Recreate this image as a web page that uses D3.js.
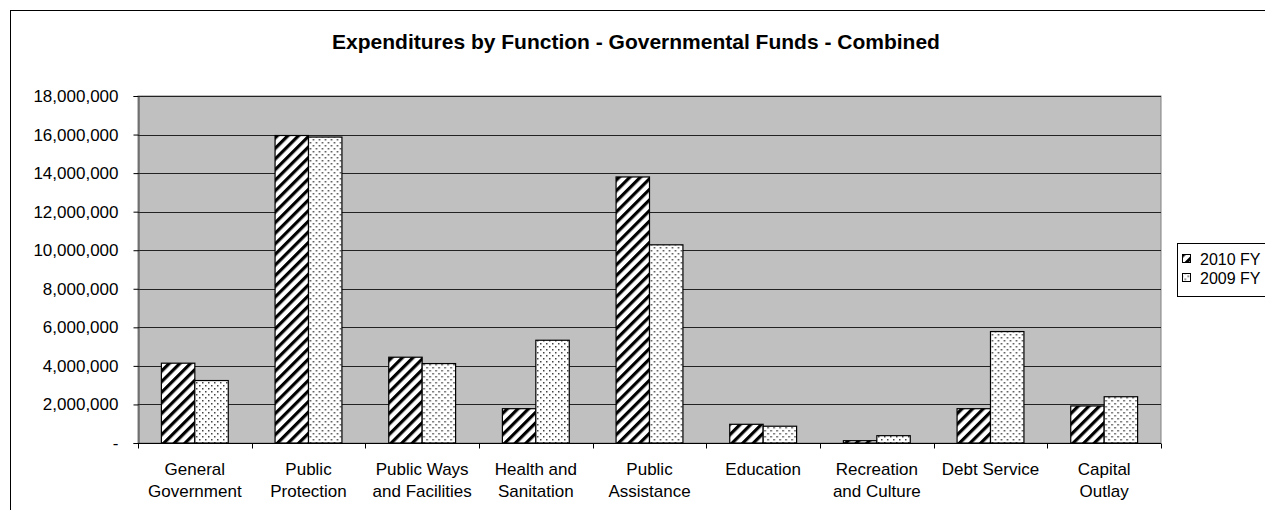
<!DOCTYPE html>
<html>
<head>
<meta charset="utf-8">
<script src="https://cdn.jsdelivr.net/npm/d3@7"></script>
<style>
  body { margin: 0; background: #fff; }
  svg { display: block; font-family: "Liberation Sans", Arial, sans-serif; }
</style>
</head>
<body>
<script>
const categories = [
  ["General", "Government"],
  ["Public", "Protection"],
  ["Public Ways", "and Facilities"],
  ["Health and", "Sanitation"],
  ["Public", "Assistance"],
  ["Education"],
  ["Recreation", "and Culture"],
  ["Debt Service"],
  ["Capital", "Outlay"]
];
const series = ["2010 FY", "2009 FY"];
const fy2010 = [4140000, 15950000, 4450000, 1780000, 13800000, 970000, 120000, 1780000, 1920000];
const fy2009 = [3240000, 15870000, 4120000, 5330000, 10280000, 870000, 380000, 5780000, 2400000];
const yTicks = [0, 2000000, 4000000, 6000000, 8000000, 10000000, 12000000, 14000000, 16000000, 18000000];

const w = 1265;
const h = 510;
const margin = { left: 138, right: 104, top: 96, bottom: 67 };

const svg = d3.select("body").append("svg").attr("width", w).attr("height", h);

// patterns
const defs = svg.append("defs");
const stripe = defs.append("pattern")
  .attr("id", "stripe")
  .attr("patternUnits", "userSpaceOnUse")
  .attr("width", 7.5)
  .attr("height", 7.5)
  .attr("patternTransform", "rotate(45)");
stripe.append("rect").attr("width", 7.5).attr("height", 7.5).attr("fill", "#fff");
stripe.append("rect").attr("width", 3.2).attr("height", 7.5).attr("fill", "#000");

const dots = defs.append("pattern")
  .attr("id", "dots")
  .attr("patternUnits", "userSpaceOnUse")
  .attr("width", 6)
  .attr("height", 6);
dots.append("rect").attr("width", 6).attr("height", 6).attr("fill", "#fff");
dots.append("rect").attr("x", 1).attr("y", 1).attr("width", 1.5).attr("height", 1.5).attr("fill", "#444");
dots.append("rect").attr("x", 4).attr("y", 4).attr("width", 1.5).attr("height", 1.5).attr("fill", "#444");

const fills = ["url(#stripe)", "url(#dots)"];

// outer frame
svg.append("rect")
  .attr("x", 10.5).attr("y", 10.5)
  .attr("width", w + 20).attr("height", h + 20)
  .attr("fill", "none").attr("stroke", "#000");

svg.append("text")
  .attr("x", 636).attr("y", 49)
  .attr("text-anchor", "middle")
  .attr("font-size", 21).attr("font-weight", "bold")
  .text("Expenditures by Function - Governmental Funds - Combined");

const x0 = d3.scaleBand()
  .domain(d3.range(categories.length))
  .range([margin.left, w - margin.right]);
const x1 = d3.scaleBand()
  .domain(series)
  .range([0, x0.bandwidth()])
  .paddingOuter(0.7);
const y = d3.scaleLinear()
  .domain([0, 18000000])
  .range([h - margin.bottom, margin.top]);

// plot area
svg.append("rect")
  .attr("x", margin.left).attr("y", margin.top)
  .attr("width", w - margin.right - margin.left)
  .attr("height", y(0) - margin.top)
  .attr("fill", "#c0c0c0")
  .attr("stroke", "#808080");

svg.append("g")
  .selectAll("line")
  .data(yTicks.slice(1))
  .enter()
  .append("line")
  .attr("x1", margin.left).attr("x2", w - margin.right)
  .attr("y1", (d) => Math.round(y(d)) + 0.5)
  .attr("y2", (d) => Math.round(y(d)) + 0.5)
  .attr("stroke", "#222");

// bars
const rows = categories.map((c, i) => [fy2010[i], fy2009[i]]);
svg.append("g")
  .selectAll("g")
  .data(rows)
  .enter()
  .append("g")
  .attr("transform", (d, i) => `translate(${x0(i)},0)`)
  .selectAll("rect")
  .data((d) => d)
  .enter()
  .append("rect")
  .attr("x", (d, i) => x1(series[i]))
  .attr("y", (d) => y(d))
  .attr("width", x1.bandwidth())
  .attr("height", (d) => y(0) - y(d))
  .attr("fill", (d, i) => fills[i])
  .attr("stroke", "#000")
  .attr("stroke-width", 1.2);

// y axis
const yAxis = d3.axisLeft(y)
  .tickValues(yTicks)
  .tickSize(5)
  .tickPadding(15)
  .tickFormat((d) => (d === 0 ? "-" : d3.format(",")(d)));
const yg = svg.append("g")
  .attr("transform", `translate(${margin.left + 0.5},0)`)
  .call(yAxis);
yg.selectAll("text").attr("font-size", 17).attr("fill", "#000").attr("font-family", null);
yg.selectAll("line, path").attr("stroke", "#000");
yg.select(".domain").attr("stroke", "#404040");

// x axis
const xg = svg.append("g").attr("transform", `translate(0,${Math.round(y(0)) + 0.5})`);
xg.append("line")
  .attr("x1", margin.left).attr("x2", w - margin.right)
  .attr("stroke", "#000");
xg.selectAll(".tick")
  .data(d3.range(categories.length + 1))
  .enter()
  .append("line")
  .attr("class", "tick")
  .attr("x1", (d) => Math.round(margin.left + d * x0.step()) + 0.5)
  .attr("x2", (d) => Math.round(margin.left + d * x0.step()) + 0.5)
  .attr("y1", 0).attr("y2", 5)
  .attr("stroke", "#000");

const labels = xg.selectAll("text")
  .data(categories)
  .enter()
  .append("text")
  .attr("text-anchor", "middle")
  .attr("font-size", 17)
  .attr("transform", (d, i) => `translate(${x0(i) + x0.bandwidth() / 2},0)`);
labels.selectAll("tspan")
  .data((d) => d)
  .enter()
  .append("tspan")
  .attr("x", 0)
  .attr("y", (d, i) => 31 + i * 22)
  .text((d) => d);

// legend
const lg = svg.append("g").attr("transform", "translate(1177.5,243.5)");
lg.append("rect")
  .attr("width", 120).attr("height", 53)
  .attr("fill", "#fff").attr("stroke", "#000");
const items = lg.selectAll("g")
  .data(series)
  .enter()
  .append("g")
  .attr("transform", (d, i) => `translate(0,${15 + i * 19})`);
items.append("rect")
  .attr("x", 5).attr("y", -4)
  .attr("width", 8).attr("height", 8)
  .attr("fill", (d, i) => fills[i])
  .attr("stroke", "#000");
items.append("text")
  .attr("x", 22.5).attr("y", 6)
  .attr("font-size", 16)
  .text((d) => d);
</script>
</body>
</html>
